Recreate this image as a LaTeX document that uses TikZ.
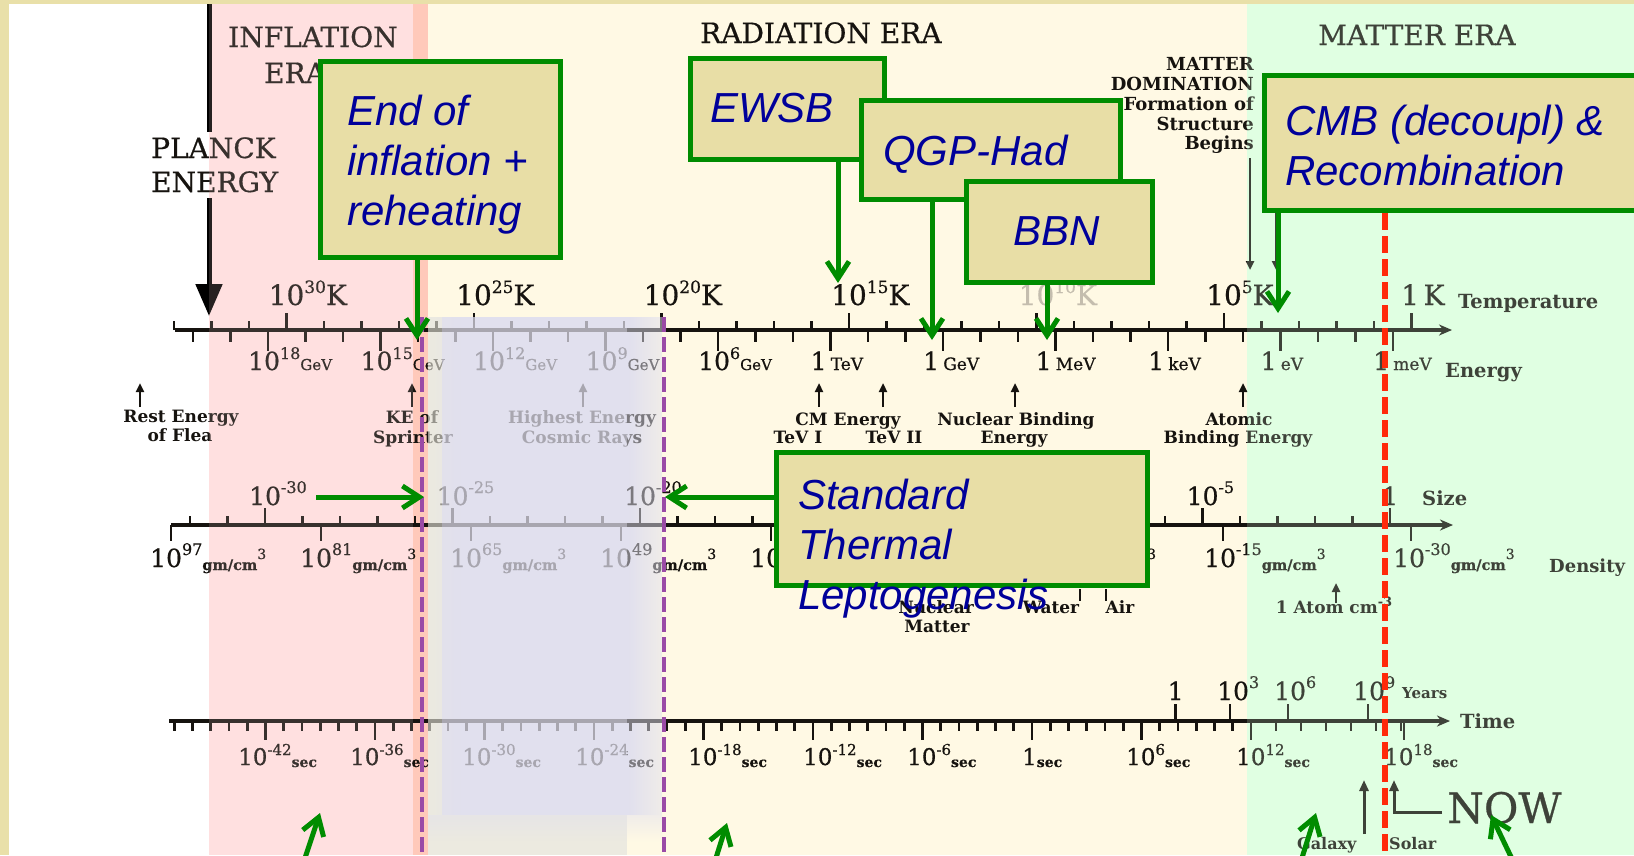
\documentclass[tikz,border=0pt]{standalone}
\usepackage{fontspec}
\setmainfont{DejaVu Serif}
\newfontfamily\chartrm{DejaVu Serif}[FakeBold=0.6]
\newfontfamily\boxfont{Liberation Sans}
\usetikzlibrary{arrows.meta}
\definecolor{framecol}{HTML}{E9E0A9}
\definecolor{boxfill}{HTML}{E8DEA6}
\definecolor{gborder}{HTML}{008C00}
\definecolor{navy}{HTML}{00009A}
\definecolor{pinkbg}{HTML}{FFE0E0}
\definecolor{salmon}{HTML}{FFC9BA}
\definecolor{creambg}{HTML}{FFF9E4}
\definecolor{greenbg}{HTML}{E0FFE2}
\definecolor{lavbg}{HTML}{E1E0EE}
\definecolor{greyfade}{HTML}{ECEAE0}
\definecolor{purpdash}{HTML}{9A4AA6}
\definecolor{reddash}{HTML}{FF2A0A}
\definecolor{ink}{HTML}{16130F}
\definecolor{fadeink}{HTML}{C4BDAE}
\newcommand\FS[1]{\fontsize{#1}{#1}\selectfont}
\tikzset{
  axisline/.style={draw=ink, line width=3.4pt, -{Stealth[length=13pt,width=11pt]}},
  tickline/.style={draw=ink, line width=2.6pt},
  lbl/.style={inner sep=0pt, text=ink, anchor=base west},
  templbl/.style={lbl, font=\chartrm\FS{28}},
  enlbl/.style={lbl, font=\chartrm\FS{25}},
  sizelbl/.style={lbl, font=\chartrm\FS{25}},
  timelbl/.style={lbl, font=\chartrm\FS{23}},
  eratitle/.style={lbl, font=\chartrm\FS{28}},
  axname/.style={lbl, font=\bfseries\FS{19.5}},
  annot/.style={inner sep=0pt, text=ink, anchor=base, font=\bfseries\FS{17}},
  uparrow/.style={draw=ink, line width=2.4pt, -{Triangle[length=9pt,width=8pt]}},
  greenbox/.style={draw=gborder, line width=5pt, fill=boxfill, inner sep=0pt, outer sep=0pt, anchor=north west},
  boxtext/.style={inner sep=0pt, text=navy, anchor=base west, font=\boxfont\itshape\FS{42}},
  garrow/.style={draw=gborder, line width=5pt, -{Straight Barb[length=17pt,width=22pt]}},
  purpdashed/.style={draw=purpdash, line width=4.5pt, dash pattern=on 15pt off 5pt},
  reddashed/.style={draw=reddash, line width=5.5pt, dash pattern=on 17pt off 6pt},
}
\begin{document}
\begin{tikzpicture}[x=1pt,y=-1pt]
\useasboundingbox (0,0) rectangle (1634,855);
% ---------- backgrounds ----------
\fill[framecol] (0,0) rectangle (1634,855);
\fill[white] (9,4) rectangle (209,855);
\fill[pinkbg] (209,4) rectangle (413,855);
\fill[salmon] (413,4) rectangle (428,855);
\fill[creambg] (428,4) rectangle (1247,855);
\fill[greenbg] (1247,4) rectangle (1634,855);
\shade[left color=greyfade, right color=lavbg] (428,317) rectangle (462,815);
\fill[lavbg] (462,317) rectangle (627,815);
\shade[left color=lavbg, right color=creambg] (627,317) rectangle (662,815);
\shade[top color=lavbg, bottom color=greyfade] (428,815) rectangle (627,842);
\fill[greyfade] (428,842) rectangle (627,855);
\shade[top color=lavbg!50!creambg, bottom color=creambg] (627,815) rectangle (662,842);

% ---------- era titles ----------
\node[eratitle] (inf1) at (228,47) {INFLATION};
\node[eratitle] (inf2) at (264,83) {ERA};
\node[eratitle] (rad) at (700,43) {RADIATION ERA};
\node[eratitle] (mat) at (1318,45) {MATTER ERA};
\node[lbl, anchor=base east, font=\bfseries\FS{18}] (md1) at (1254,70) {MATTER};
\node[lbl, anchor=base east, font=\bfseries\FS{18}] (md2) at (1254,90) {DOMINATION};
\node[lbl, anchor=base east, font=\bfseries\FS{18}] (md3) at (1254,110) {Formation of};
\node[lbl, anchor=base east, font=\bfseries\FS{18}] (md4) at (1254,130) {Structure};
\node[lbl, anchor=base east, font=\bfseries\FS{18}] (md5) at (1254,149) {Begins};
\draw[uparrow] (1250,158) -- (1250,270);
\draw[uparrow] (1276,160) -- (1276,270);

% ---------- Planck ----------
\node[eratitle] (pl1) at (151,158) {PLANCK};
\node[eratitle] (pl2) at (151,192) {ENERGY};
\draw[draw=black, line width=5pt] (209,4) -- (209,132);
\draw[draw=black, line width=5pt, -{Triangle[length=32pt,width=26pt]}] (209,198) -- (209,316);

% ---------- temperature / energy axis ----------
\draw[axisline] (175,330) -- (1452,330);
\foreach \n in {0,...,33} \draw[tickline] ({1411.5-37.5*\n},330) -- ++(0,-9);
\foreach \n in {0,5,...,30} \draw[tickline] ({1411.5-37.5*\n},330) -- ++(0,-17);
\foreach \kv in {0,...,32} \draw[tickline] ({1393-37.5*\kv},330) -- ++(0,12);
\foreach \kv in {0,3,...,30} \draw[tickline] ({1393-37.5*\kv},330) -- ++(0,21);
\foreach \n/\x in {30/268.5,25/456,20/643.5,15/831,5/1206}
  \node[templbl] (tk\n) at (\x,305) {10\raisebox{12pt}{\FS{17}\n}K};
\node[templbl, text=fadeink] (tk10) at (1018.5,305) {10\raisebox{12pt}{\FS{17}10}K};
\node[templbl] (tk0) at (1401,305) {1\,K};
\node[axname] (temp) at (1458,308) {Temperature};
\foreach \ev/\x in {18/248,15/360.5,12/473,9/585.5,6/698}
  \node[enlbl] (en\ev) at (\x,370) {10\raisebox{11pt}{\FS{16}\ev}{\FS{15}GeV}};
\foreach \uv/\x in {TeV/810.5,GeV/923,MeV/1035.5,keV/1148,eV/1260.5,meV/1373}
  \node[enlbl] (en\uv) at (\x,370) {1\,{\FS{17}\uv}};
\node[axname] (energy) at (1445,377) {Energy};

% annotations
\node[annot] (rest1) at (181,422) {Rest Energy};
\node[annot] (rest2) at (180,441) {of Flea};
\draw[uparrow] (140,407) -- (140,383);
\node[annot] (ke1) at (412,423) {KE of};
\node[annot] (ke2) at (413,443) {Sprinter};
\draw[uparrow] (412,407) -- (412,383);
\node[annot] (he1) at (582,423) {Highest Energy};
\node[annot] (he2) at (582,443) {Cosmic Rays};
\draw[uparrow] (583,407) -- (583,383);
\node[annot] (cm1) at (848,425) {CM Energy};
\node[annot] (cm2) at (798,443) {TeV I};
\node[annot] (cm3) at (894,443) {TeV II};
\draw[uparrow] (819,407) -- (819,383);
\draw[uparrow] (883,407) -- (883,383);
\node[annot] (nb1) at (1016,425) {Nuclear Binding};
\node[annot] (nb2) at (1014,443) {Energy};
\draw[uparrow] (1015,407) -- (1015,383);
\node[annot] (ab1) at (1239,425) {Atomic};
\node[annot] (ab2) at (1238,443) {Binding Energy};
\draw[uparrow] (1243,407) -- (1243,383);

% ---------- size / density axis ----------
\draw[axisline] (171,525) -- (1453,525);
\foreach \m in {0,...,32} \draw[tickline] ({1390-37.5*\m},525) -- ++(0,-9);
\foreach \m in {0,5,...,30} \draw[tickline] ({1390-37.5*\m},525) -- ++(0,-17);
\foreach \x in {171,321,471,621,771,921,1071,1223,1411} \draw[tickline] (\x,525) -- ++(0,16);
\foreach \sv/\x in {30/249,25/436.5,20/624,15/811.5,10/999,5/1186.5}
  \node[sizelbl] (sz\sv) at (\x,505) {10\raisebox{12pt}{\FS{16}-\sv}};
\node[sizelbl] (sz0) at (1382,505) {1};
\node[axname] (size) at (1422,505) {Size};
\foreach \dv/\x [count=\i] in {97/150,81/300,65/450,49/600,33/750,17/900,1/1050,-15/1204,-30/1393}
  \node[sizelbl] (dn\i) at (\x,567) {10\raisebox{12pt}{\FS{16}\dv}\raisebox{-3pt}{\bfseries\FS{14.5}gm/cm}\raisebox{8pt}{\FS{14}3}};
\node[axname, font=\bfseries\FS{18}] (density) at (1549,572) {Density};
\node[annot] (nm1) at (936,613) {Nuclear};
\node[annot] (nm2) at (937,632) {Matter};
\node[annot] (water) at (1051,613) {Water};
\node[annot] (air) at (1120,613) {Air};
\draw[tickline] (1080,589) -- (1080,601);
\draw[tickline] (1106,589) -- (1106,601);
\node[annot] (atom) at (1334,613) {1 Atom cm\raisebox{7pt}{\FS{13}-3}};
\draw[uparrow] (1336,603) -- (1336,583);

% ---------- time axis ----------
\draw[axisline] (169,721) -- (1450,721);
\foreach \kv in {-47,...,12} \draw[tickline] ({1032+18.25*\kv},721) -- ++(0,10);
\foreach \kv in {-42,-36,...,12} \draw[tickline] ({1032+18.25*\kv},721) -- ++(0,19);
\foreach \kv in {13,...,18} \draw[tickline] ({1251+25*(\kv-12)},721) -- ++(0,10);
\draw[tickline] (1404,721) -- ++(0,19);
\foreach \x in {1175.5,1230,1288,1368} \draw[tickline] (\x,721) -- ++(0,-17);
\foreach \tv/\x [count=\i] in {-42/252,-36/364,-30/476,-24/589,-18/702,-12/817,-6/921,6/1140,12/1250,18/1398}
  \node[timelbl] (tm\i) at (\x-14,765) {10\raisebox{10pt}{\FS{15}\tv}\raisebox{-2pt}{\bfseries\FS{14}sec}};
\node[timelbl] (tm0) at (1022,765) {1\raisebox{-2pt}{\bfseries\FS{14}sec}};
\node[sizelbl] (yr0) at (1167.5,700) {1};
\foreach \yv/\x in {3/1217,6/1274,9/1353}
  \node[sizelbl] (yr\yv) at (\x,700) {10\raisebox{12pt}{\FS{16}\yv}};
\node[lbl, font=\bfseries\FS{15}] (years) at (1402,698) {Years};
\node[axname] (time) at (1460,728) {Time};

% bottom labels
\draw[draw=ink, line width=3pt, -{Triangle[length=11pt,width=9pt]}] (1364,834) -- (1364,780);
\node[lbl, font=\bfseries\FS{16}] (galaxy) at (1297,849) {Galaxy};
\node[lbl, font=\bfseries\FS{16}] (solar) at (1389,849) {Solar};
\draw[draw=ink, line width=3pt, -{Triangle[length=11pt,width=9pt]}] (1442,812) -- (1394,812) -- (1394,780);
\node[lbl, font=\chartrm\FS{42}] (now) at (1447,823) {NOW};

% ---------- tint overlays ----------
\fill[pinkbg, opacity=0.15] (209,4) rectangle (413,855);
\fill[greenbg, opacity=0.2] (1247,4) rectangle (1634,855);
\fill[greyfade, opacity=0.6] (428,317) rectangle (442,815);
\fill[lavbg, opacity=0.72] (442,317) rectangle (627,815);
\fill[lavbg, opacity=0.5] (627,317) rectangle (662,815);
\fill[greyfade, opacity=0.55] (428,815) rectangle (627,855);

% ---------- dashed markers ----------
\draw[purpdashed] (422,317) -- (422,855);
\draw[purpdashed] (664,317) -- (664,855);
\draw[reddashed] (1385,213) -- (1385,855);

% ---------- green boxes ----------
\node[greenbox, minimum width=240pt, minimum height=196pt] (einf) at (320.5,61.5) {};
\node[boxtext] (einfa) at (347,125) {End of};
\node[boxtext] (einfb) at (347,175) {inflation +};
\node[boxtext] (einfc) at (347,225) {reheating};

\node[greenbox, minimum width=194pt, minimum height=101pt] (ewsb) at (690.5,58.5) {};
\node[boxtext] (ewsbt) at (710,122) {EWSB};
\node[greenbox, minimum width=259pt, minimum height=99pt] (qgp) at (861.5,100.5) {};
\node[boxtext] (qgpt) at (883,165) {QGP-Had};
\node[greenbox, minimum width=186pt, minimum height=101pt] (bbn) at (966.5,181.5) {};
\node[boxtext] (bbnt) at (1013,245) {BBN};
\node[greenbox, minimum width=400pt, minimum height=135pt] (cmb) at (1264.5,75.5) {};
\node[boxtext] (cmba) at (1285,135) {CMB (decoupl) \&};
\node[boxtext] (cmbb) at (1285,185) {Recombination};
\node[greenbox, minimum width=371pt, minimum height=133pt] (stl) at (776.5,452.5) {};
\node[boxtext] (stla) at (798,509) {Standard};
\node[boxtext] (stlb) at (798,559) {Thermal};
\node[boxtext] (stlc) at (798,609) {Leptogenesis};

% ---------- green connectors ----------
\coordinate (einfT) at (417,340);
\coordinate (ewsbT) at (838,283);
\coordinate (qgpT) at (932,340);
\coordinate (bbnT) at (1047,340);
\coordinate (cmbT) at (1278,313);
\coordinate (stlT) at (665,497);
\coordinate (infA) at (316,497);
\coordinate (infB) at (424,497);
\draw[garrow] (einf.south -| einfT) -- (einfT);
\draw[garrow] (ewsb.south -| ewsbT) -- (ewsbT);
\draw[garrow] (qgp.south -| qgpT) -- (qgpT);
\draw[garrow] (bbn.south -| bbnT) -- (bbnT);
\draw[garrow] (cmb.south -| cmbT) -- (cmbT);
\draw[garrow] (stl.west |- stlT) -- (stlT);
\draw[garrow] (infA) -- (infB);
\coordinate (b1a) at (304,861); \coordinate (b1b) at (320,813);
\coordinate (b2a) at (715,861); \coordinate (b2b) at (727,823);
\coordinate (b3a) at (1301,861); \coordinate (b3b) at (1316,813);
\coordinate (b4a) at (1513,861); \coordinate (b4b) at (1491,815);
\draw[garrow] (b1a) -- (b1b);
\draw[garrow] (b2a) -- (b2b);
\draw[garrow] (b3a) -- (b3b);
\draw[garrow] (b4a) -- (b4b);
\end{tikzpicture}
\end{document}
